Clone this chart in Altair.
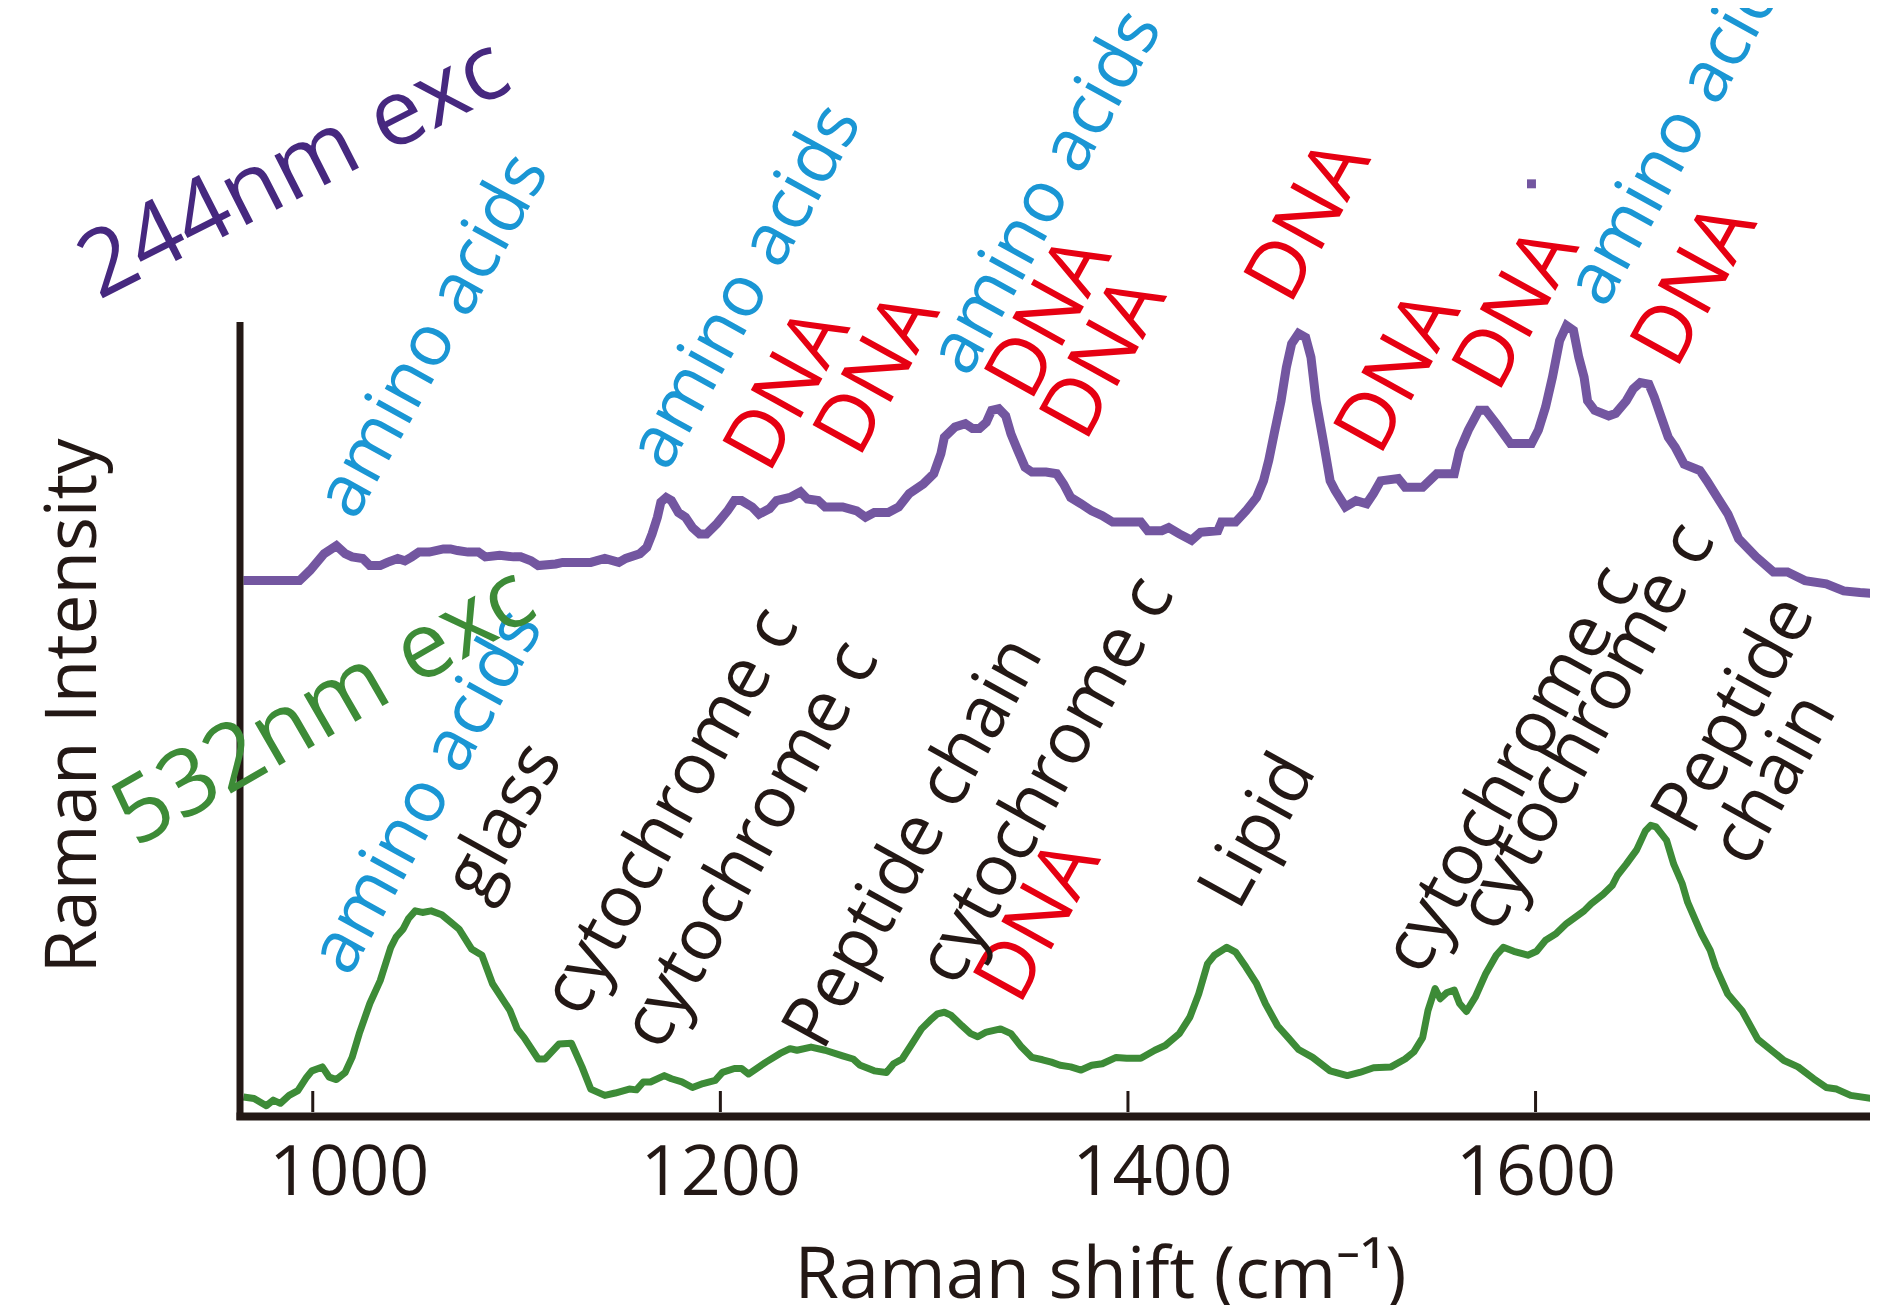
import altair as alt
import pandas as pd

# ---------------- data ----------------
# 244 nm excitation spectrum (purple)
uv_wn = [966.0, 993.5, 998.7, 1005.6, 1011.6, 1015.9, 1019.3, 1024.5, 1028.0, 1033.1,
         1036.6, 1041.7, 1045.2, 1048.6, 1052.1, 1057.2, 1064.1, 1067.6, 1071.0, 1076.2,
         1081.3, 1084.7, 1091.7, 1098.5, 1102.0, 1107.1, 1110.6, 1119.2, 1122.6, 1136.4,
         1143.3, 1150.2, 1153.6, 1160.5, 1163.9, 1166.5, 1169.1, 1170.8, 1173.4, 1176.0,
         1179.4, 1182.9, 1186.3, 1189.8, 1193.2, 1198.3, 1203.5, 1206.9, 1210.4, 1215.6,
         1219.0, 1224.2, 1227.6, 1234.2, 1239.3, 1242.7, 1248.0, 1251.4, 1260.0, 1266.9,
         1271.2, 1275.5, 1282.4, 1287.5, 1292.7, 1299.6, 1304.7, 1308.2, 1309.9, 1315.1,
         1320.2, 1323.7, 1327.1, 1330.5, 1333.1, 1336.6, 1340.0, 1342.6, 1346.0, 1349.5,
         1352.9, 1359.8, 1365.0, 1368.4, 1371.9, 1377.0, 1382.2, 1387.4, 1392.5, 1406.3,
         1409.7, 1416.6, 1420.0, 1425.2, 1431.2, 1435.6, 1444.1, 1445.9, 1452.8, 1457.9,
         1463.1, 1466.5, 1469.1, 1471.7, 1475.1, 1477.7, 1480.3, 1483.7, 1487.2, 1489.8,
         1492.3, 1495.8, 1499.2, 1501.6, 1506.7, 1511.9, 1517.1, 1520.5, 1524.0, 1532.6,
         1536.0, 1544.6, 1551.5, 1560.1, 1562.7, 1567.0, 1572.2, 1575.6, 1580.7, 1587.7,
         1598.0, 1601.4, 1604.9, 1608.3, 1611.8, 1615.2, 1618.6, 1621.2, 1623.8, 1625.5,
         1629.0, 1635.9, 1639.3, 1644.5, 1647.9, 1651.4, 1655.6, 1658.2, 1661.7, 1665.1,
         1668.6, 1672.9, 1680.6, 1684.1, 1689.2, 1694.4, 1699.6, 1708.2, 1716.7, 1723.6,
         1732.2, 1742.6, 1751.2, 1759.2, 1770.8]
uv_int = [67.6, 67.6, 68.9, 71.0, 72.0, 71.0, 70.6, 70.4, 69.5, 69.5,
          69.9, 70.4, 70.1, 70.6, 71.2, 71.2, 71.6, 71.6, 71.4, 71.2,
          71.2, 70.6, 70.8, 70.6, 70.6, 70.1, 69.5, 69.7, 69.9, 69.9,
          70.4, 69.9, 70.4, 71.0, 71.8, 73.5, 75.6, 77.5, 78.1, 77.7,
          76.2, 75.6, 74.3, 73.5, 73.5, 74.8, 76.4, 77.7, 77.7, 76.9,
          76.0, 76.7, 77.7, 78.1, 78.8, 77.9, 77.7, 76.9, 76.9, 76.4,
          75.6, 76.2, 76.2, 76.9, 78.6, 79.8, 81.1, 83.6, 85.7, 87.0,
          87.4, 86.8, 86.8, 87.6, 89.1, 89.3, 88.4, 86.1, 84.0, 81.9,
          81.3, 81.3, 81.1, 79.8, 78.1, 77.3, 76.4, 75.8, 75.0, 75.0,
          73.9, 73.9, 74.3, 73.5, 72.7, 73.7, 73.9, 75.0, 75.0, 76.4,
          78.1, 80.2, 82.8, 86.1, 90.3, 94.5, 97.5, 98.8, 98.3, 95.8,
          90.3, 85.3, 80.2, 79.0, 76.9, 77.7, 77.3, 78.6, 80.2, 80.5,
          79.4, 79.4, 81.1, 81.1, 84.0, 86.6, 89.1, 89.1, 87.4, 84.9,
          84.9, 86.6, 89.5, 93.3, 97.9, 99.8, 99.2, 95.8, 93.3, 90.3,
          89.1, 88.4, 88.7, 90.3, 91.8, 92.6, 92.4, 90.8, 88.2, 85.7,
          84.4, 82.3, 81.5, 80.2, 78.1, 76.0, 72.9, 70.6, 68.7, 68.7,
          67.6, 67.2, 66.3, 66.1, 65.9]

# 532 nm excitation spectrum (green)
vis_wn = [966.0, 971.2, 977.2, 980.6, 984.1, 988.4, 992.7, 997.0, 999.6, 1004.7,
          1008.1, 1011.6, 1015.9, 1019.3, 1022.8, 1028.0, 1033.1, 1038.3, 1040.9, 1044.3,
          1046.9, 1050.3, 1053.8, 1058.1, 1063.3, 1067.6, 1071.8, 1077.9, 1083.0, 1088.2,
          1096.8, 1100.3, 1103.7, 1110.6, 1114.0, 1120.9, 1126.9, 1132.1, 1136.4, 1143.3,
          1148.4, 1155.3, 1158.8, 1162.2, 1165.7, 1172.5, 1176.0, 1181.1, 1186.3, 1191.5,
          1197.5, 1201.0, 1206.9, 1210.4, 1213.8, 1222.4, 1229.3, 1234.2, 1237.6, 1244.5,
          1251.4, 1260.0, 1265.1, 1268.6, 1275.5, 1281.5, 1285.0, 1289.2, 1293.5, 1298.7,
          1303.0, 1306.5, 1309.9, 1313.3, 1318.5, 1322.8, 1326.3, 1330.5, 1337.5, 1342.6,
          1347.8, 1352.9, 1358.1, 1362.4, 1366.7, 1371.9, 1377.0, 1382.2, 1387.4, 1394.2,
          1399.4, 1406.3, 1413.2, 1418.3, 1425.2, 1430.4, 1434.7, 1439.0, 1442.4, 1448.5,
          1452.8, 1457.9, 1463.1, 1467.4, 1473.4, 1478.6, 1483.7, 1490.6, 1499.2, 1507.6,
          1513.7, 1520.5, 1529.1, 1536.0, 1540.3, 1544.6, 1547.2, 1550.7, 1553.2, 1556.6,
          1560.1, 1562.7, 1566.1, 1570.4, 1575.6, 1580.7, 1584.2, 1589.3, 1596.2, 1600.5,
          1604.9, 1610.0, 1615.2, 1623.8, 1627.3, 1633.2, 1637.6, 1640.2, 1644.5, 1649.6,
          1653.9, 1656.5, 1659.1, 1664.3, 1667.8, 1672.0, 1674.6, 1678.8, 1681.4, 1685.7,
          1688.4, 1694.3, 1701.3, 1709.0, 1716.7, 1721.9, 1728.8, 1736.5, 1742.6, 1747.7,
          1754.6, 1765.0, 1771.5]
vis_int = [2.4, 2.2, 1.3, 2.0, 1.6, 2.6, 3.2, 4.9, 5.7, 6.2,
           4.9, 4.6, 5.5, 7.4, 10.4, 14.2, 17.1, 21.3, 22.6, 23.6,
           24.9, 25.9, 25.7, 25.9, 25.4, 24.5, 23.6, 21.1, 20.3, 16.7,
           13.3, 11.0, 9.9, 7.2, 7.2, 9.1, 9.2, 6.2, 3.4, 2.6,
           2.9, 3.4, 3.3, 4.3, 4.3, 5.1, 4.7, 4.3, 3.6, 4.1,
           4.5, 5.5, 6.0, 6.0, 5.3, 6.8, 7.9, 8.5, 8.3, 8.7,
           8.3, 7.6, 7.2, 6.4, 5.7, 5.5, 6.6, 7.2, 8.9, 11.0,
           12.1, 12.9, 13.1, 12.7, 11.4, 10.4, 10.0, 10.6, 11.0, 10.4,
           8.7, 7.4, 7.1, 6.8, 6.4, 6.2, 5.8, 6.4, 6.6, 7.4,
           7.3, 7.3, 8.3, 8.9, 10.4, 12.5, 15.4, 19.2, 20.3, 21.3,
           20.7, 18.8, 16.7, 14.2, 11.4, 9.9, 8.4, 7.4, 5.7, 5.1,
           5.5, 6.1, 6.2, 7.2, 8.1, 9.9, 13.3, 16.1, 14.8, 15.6,
           15.9, 14.2, 13.2, 15.0, 18.0, 20.3, 21.3, 20.8, 20.3, 20.8,
           22.2, 23.0, 24.3, 25.9, 26.8, 28.0, 29.1, 30.4, 31.8, 33.6,
           36.0, 36.7, 36.5, 34.8, 31.8, 29.3, 27.0, 24.5, 23.0, 20.9,
           18.8, 15.4, 13.3, 9.7, 8.1, 7.0, 6.2, 4.7, 3.6, 3.4,
           2.6, 2.2, 1.5]

tick_values = [1000, 1200, 1400, 1600]

# band assignment labels (anchor = start of the text baseline)
amino_text = "amino acids"
amino_wn = [1020.7, 1174.0, 1321.5, 1634.1, 1017.8]
amino_y = [75.0, 81.2, 93.1, 101.8, 17.4]

dna_text = "DNA"
dna_wn = [1223.8, 1267.9, 1352.1, 1379.1, 1479.4, 1523.4, 1581.5, 1668.9, 1346.7]
dna_y = [80.9, 82.9, 90.0, 84.9, 102.2, 83.1, 91.1, 94.1, 13.8]

band_text = ["glass", "cytochrome c", "cytochrome c", "Peptide chain", "cytochrome c",
             "Lipid", "cytochrome c", "cytochrome c", "Peptide\nchain"]
band_wn = [1083.5, 1131.6, 1170.9, 1250.2, 1315.7, 1454.3, 1544.3, 1581.1, 1676.6]
band_y = [26.7, 12.2, 8.0, 8.0, 16.1, 25.7, 17.5, 22.9, 35.2]

uv_exc_text, uv_exc_wn, uv_exc_y = "244nm exc", 895.0, 103.0
vis_exc_text, vis_exc_wn, vis_exc_y = "532nm exc", 913.2, 33.8

stray_wn = [1598.0]
stray_y = [117.7]

# ---------------- styling ----------------
BLACK = "#231815"
PURPLE = "#7356a0"
DARK_PURPLE = "#46287f"
GREEN = "#3d8b37"
BLUE = "#1a96d4"
RED = "#e60012"
FONT = "Open Sans"

X0, X1 = 964.3, 1764.1
W, H = 1630, 1108
YMAX = 139.9

xscale = alt.Scale(domain=[X0, X1], nice=False, zero=False)
yscale = alt.Scale(domain=[0, YMAX], nice=False, zero=False)
xaxis = alt.Axis(
    values=tick_values, format="d", grid=False, ticks=False, tickSize=0,
    domainColor=BLACK, domainWidth=8, domainCap="square",
    labelFont=FONT, labelFontSize=70, labelColor=BLACK, labelPadding=23,
    labelFlush=False, labelOverlap=False,
    labelOffset={"expr": "datum.value == 1000 ? 36 : (datum.value == 1400 ? 24 : 0)"},
    title="Raman shift (cm\u207b\u00b9)", titleFont=FONT, titleFontSize=72,
    titleFontWeight="normal", titleColor=BLACK, titleAlign="center",
    titleBaseline="alphabetic", titleX=860, titleY=181,
)


def X(field="wn"):
    return alt.X(f"{field}:Q", scale=xscale, axis=xaxis)


def Y(field="i"):
    return alt.Y(f"{field}:Q", scale=yscale, axis=None)


uv_df = pd.DataFrame({"wn": uv_wn, "i": uv_int})
vis_df = pd.DataFrame({"wn": vis_wn, "i": vis_int})

uv_line = alt.Chart(uv_df).mark_line(color=PURPLE, strokeWidth=9, clip=True).encode(x=X(), y=Y())
vis_line = alt.Chart(vis_df).mark_line(color=GREEN, strokeWidth=7, clip=True,
                                       strokeJoin="round").encode(x=X(), y=Y())

ticks = alt.Chart(pd.DataFrame({"wn": tick_values})).mark_rule(
    color=BLACK, strokeWidth=3).encode(x=X(), y=alt.value(H - 4), y2=alt.value(H - 25))

yaxis_line = alt.Chart(pd.DataFrame({"a": [0]})).mark_rule(
    color=BLACK, strokeWidth=7).encode(x=alt.value(0), y=alt.value(H + 4), y2=alt.value(314))

ytitle = alt.Chart(pd.DataFrame({"t": ["Raman Intensity"]})).mark_text(
    angle=270, font=FONT, fontSize=71, color=BLACK, align="center", baseline="alphabetic"
).encode(text="t:N", x=alt.value(-144), y=alt.value(698))

label_style = dict(angle=299, font=FONT, align="left", baseline="alphabetic",
                   lineBreak="\n", lineHeight=66)

amino_df = pd.DataFrame({"wn": amino_wn, "i": amino_y, "t": [amino_text] * len(amino_wn)})
dna_df = pd.DataFrame({"wn": dna_wn, "i": dna_y, "t": [dna_text] * len(dna_wn)})
band_df = pd.DataFrame({"wn": band_wn, "i": band_y, "t": band_text})

amino_lab = alt.Chart(amino_df).mark_text(color=BLUE, fontSize=72, **label_style).encode(
    x=X(), y=Y(), text="t:N")
dna_lab = alt.Chart(dna_df).mark_text(color=RED, fontSize=80, **label_style).encode(
    x=X(), y=Y(), text="t:N")
band_lab = alt.Chart(band_df).mark_text(color=BLACK, fontSize=72, **label_style).encode(
    x=X(), y=Y(), text="t:N")

uv_exc = alt.Chart(pd.DataFrame({"wn": [uv_exc_wn], "i": [uv_exc_y], "t": [uv_exc_text]})).mark_text(
    angle=333, font=FONT, fontSize=92, align="left", baseline="alphabetic", color=DARK_PURPLE
).encode(x=X(), y=Y(), text="t:N")
vis_exc = alt.Chart(pd.DataFrame({"wn": [vis_exc_wn], "i": [vis_exc_y], "t": [vis_exc_text]})).mark_text(
    angle=330, font=FONT, fontSize=92, align="left", baseline="alphabetic", color=GREEN
).encode(x=X(), y=Y(), text="t:N")

stray = alt.Chart(pd.DataFrame({"wn": stray_wn, "i": stray_y})).mark_square(
    size=80, color=PURPLE, opacity=1).encode(x=X(), y=Y())

chart = alt.layer(
    uv_line, vis_line, ticks, yaxis_line, ytitle,
    amino_lab, dna_lab, band_lab, uv_exc, vis_exc, stray,
).properties(
    width=W, height=H,
    autosize=alt.AutoSizeParams(type="none"),
    padding={"left": 232, "top": 0, "right": 0, "bottom": 189},
    background="white",
).configure_view(stroke=None)

chart.save("out.html", embed_options={"renderer": "svg", "actions": False})
